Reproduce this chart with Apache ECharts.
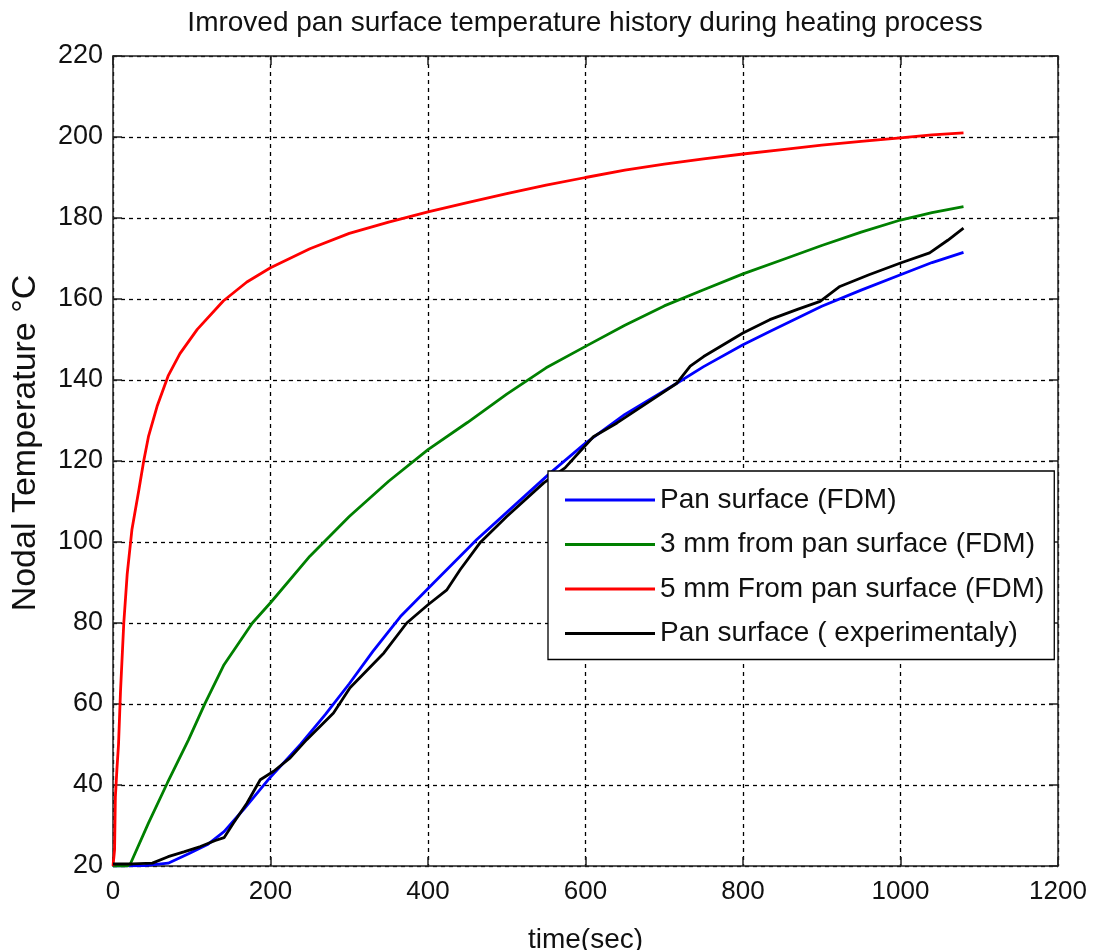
<!DOCTYPE html>
<html>
<head>
<meta charset="utf-8">
<script src="https://cdn.jsdelivr.net/npm/echarts@6/dist/echarts.min.js"></script>
<style>
html,body{margin:0;padding:0;background:#fff;}
#chart{width:1095px;height:950px;}
</style>
</head>
<body>
<div id="chart"></div>
<script>
var titleText = "Imroved pan surface temperature history during heating process";
var xName = "time(sec)";
var yName = "Nodal Temperature \u00B0C";
var seriesNames = ["Pan surface (FDM)", "3 mm from pan surface (FDM)", "5 mm From pan surface (FDM)", "Pan surface ( experimentaly)"];

var blueT = [0, 40, 70, 96, 120, 141, 166, 198, 238, 270, 300, 330, 365, 407, 462, 513, 555, 600, 650, 716, 750, 800, 834, 900, 950, 1000, 1040, 1080];
var blueV = [20, 20.1, 20.7, 23, 25.3, 28.5, 34, 41.5, 50, 57.5, 65, 73, 81.6, 89.9, 100.6, 109.6, 117, 124.4, 131.5, 139.2, 143.3, 148.7, 152, 158.2, 162.2, 166, 169, 171.5];

var greenT = [0, 18, 22, 45, 69, 96, 117, 141, 177, 200, 250, 300, 350, 400, 450, 500, 550, 600, 650, 700, 750, 800, 850, 900, 950, 1000, 1040, 1080];
var greenV = [20, 20, 20.5, 30.6, 40.5, 51.2, 60.2, 69.7, 80, 85, 96.5, 106.3, 115, 122.8, 129.5, 136.5, 143, 148.3, 153.5, 158.3, 162.3, 166.2, 169.7, 173.2, 176.5, 179.5, 181.3, 182.8];

var redT = [0, 2, 3, 5, 7, 9.5, 13.7, 18, 24, 33, 39, 45, 56, 70, 85, 107, 140, 170, 200, 250, 300, 350, 400, 450, 500, 550, 600, 650, 700, 750, 800, 850, 900, 950, 1000, 1040, 1080];
var redV = [20, 24, 37, 44, 50, 63, 80, 92, 103, 113, 120, 126, 133.5, 141, 146.5, 152.5, 159.5, 164.2, 167.7, 172.4, 176.2, 179, 181.5, 183.8, 186, 188.1, 190, 191.8, 193.3, 194.6, 195.8, 196.9, 198, 198.9, 199.8, 200.5, 201];

var blackT = [0, 25, 50, 70, 90, 111, 130, 141, 153, 170, 187, 204, 225, 246, 280, 301, 344, 373, 400, 424, 441, 466, 500, 547, 574, 610, 640, 678, 716, 733, 750, 800, 834, 870, 898, 923, 960, 1000, 1037, 1060, 1080];
var blackV = [20.5, 20.5, 20.7, 22.3, 23.5, 24.8, 26.3, 27, 30.6, 35.5, 41.3, 43.4, 46.7, 51.2, 57.8, 64, 72.6, 80, 84.5, 88.2, 93.2, 99.8, 106.3, 114.6, 118.3, 126, 129.4, 134.3, 139.2, 143.4, 145.8, 151.6, 154.9, 157.5, 159.4, 163.1, 166, 168.9, 171.4, 174.5, 177.5];

var xTicks = [0, 200, 400, 600, 800, 1000, 1200];
var yTicks = [20, 40, 60, 80, 100, 120, 140, 160, 180, 200, 220];

function zip(t, v) { return t.map(function (x, i) { return [x, v[i]]; }); }

var FONT = "Liberation Sans";
var chart = echarts.init(document.getElementById('chart'), null, {renderer: 'canvas'});

function plain(v) { return String(v); }

function xAxisDef(pos, labels) {
  return {
    type: 'value', position: pos, min: xTicks[0], max: xTicks[xTicks.length - 1], interval: xTicks[1] - xTicks[0],
    name: labels ? xName : '', nameLocation: 'middle', nameGap: 60,
    nameTextStyle: {fontFamily: FONT, fontSize: 28, color: '#111'},
    axisLine: {show: true, onZero: false, lineStyle: {color: '#222', width: 1.5}},
    axisTick: {show: true, inside: true, length: 9, lineStyle: {color: '#222', width: 1.5}},
    axisLabel: {show: labels, margin: 13, fontFamily: FONT, fontSize: 26, color: '#111', formatter: plain},
    splitLine: {show: labels, lineStyle: {color: '#000', width: 1.3, type: [4, 4]}}
  };
}
function yAxisDef(pos, labels) {
  return {
    type: 'value', position: pos, min: yTicks[0], max: yTicks[yTicks.length - 1], interval: yTicks[1] - yTicks[0],
    name: labels ? yName : '', nameLocation: 'middle', nameGap: 70, nameRotate: 90,
    nameTextStyle: {fontFamily: FONT, fontSize: 34, color: '#111', padding: [0, 0, 0, 36]},
    axisLine: {show: true, onZero: false, lineStyle: {color: '#222', width: 1.5}},
    axisTick: {show: true, inside: true, length: 9, lineStyle: {color: '#222', width: 1.5}},
    axisLabel: {show: labels, margin: 10, fontFamily: FONT, fontSize: 27, color: '#111', formatter: plain},
    splitLine: {show: labels, lineStyle: {color: '#000', width: 1.3, type: [4, 4]}}
  };
}

function lineSeries(name, color, t, v) {
  return {
    name: name, type: 'line', data: zip(t, v), xAxisIndex: 0, yAxisIndex: 0,
    showSymbol: false, symbol: 'none', smooth: false, animation: false,
    lineStyle: {color: color, width: 2.8}, itemStyle: {color: color}
  };
}

chart.setOption({
  backgroundColor: '#fff',
  animation: false,
  grid: {left: 113, top: 56, width: 945, height: 810, show: false, containLabel: false, outerBoundsMode: 'none'},
  graphic: [{
    type: 'text', x: 585, y: 23,
    style: {text: titleText, fontFamily: FONT, fontSize: 28, fill: '#111', textAlign: 'center', textVerticalAlign: 'middle'}
  }],
  xAxis: [xAxisDef('bottom', true), xAxisDef('top', false)],
  yAxis: [yAxisDef('left', true), yAxisDef('right', false)],
  legend: {
    orient: 'vertical', left: 548, top: 471,
    data: seriesNames,
    itemWidth: 90, itemHeight: 3, itemGap: 16.5,
    padding: [15, 10, 12, 17],
    backgroundColor: '#fff', borderColor: '#000', borderWidth: 1.3, borderRadius: 0,
    textStyle: {fontFamily: FONT, fontSize: 28, color: '#111'},
    icon: 'rect', selectedMode: false
  },
  series: [
    lineSeries(seriesNames[0], '#0000ff', blueT, blueV),
    lineSeries(seriesNames[1], '#008000', greenT, greenV),
    lineSeries(seriesNames[2], '#ff0000', redT, redV),
    lineSeries(seriesNames[3], '#000000', blackT, blackV)
  ]
});
</script>
</body>
</html>
